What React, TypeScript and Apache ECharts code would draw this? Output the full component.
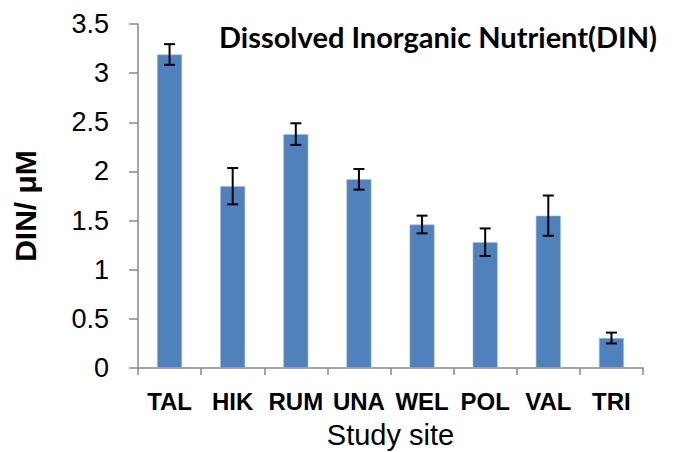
import React, { useEffect, useRef } from "react";
import * as echarts from "echarts";

const categories = ["TAL", "HIK", "RUM", "UNA", "WEL", "POL", "VAL", "TRI"];
const dinValues = [3.19, 1.85, 2.38, 1.92, 1.46, 1.28, 1.55, 0.305];
const dinErrors = [0.105, 0.185, 0.11, 0.105, 0.09, 0.14, 0.205, 0.055];
const yTicks = [0, 0.5, 1, 1.5, 2, 2.5, 3, 3.5];

export default function App() {
  const ref = useRef<HTMLDivElement>(null);
  useEffect(() => {
    document.body.style.margin = "0";
    const chart = echarts.init(ref.current!, null, { renderer: "svg" });
    const errData = categories.map((_, i) => [i, dinValues[i] - dinErrors[i], dinValues[i] + dinErrors[i]]);
    chart.setOption({
      animation: false,
      backgroundColor: "#ffffff",
      title: {
        text: "Dissolved Inorganic Nutrient(DIN)",
        left: 433,
        top: 17,
        textAlign: "center",
        textStyle: { fontFamily: "Lato", fontWeight: "bold", fontSize: 29, color: "#000" },
      },
      grid: { left: 138, right: 49, top: 24, bottom: 84, containLabel: false, outerBoundsMode: "none" },
      xAxis: {
        type: "category",
        data: categories,
        boundaryGap: true,
        name: "Study site",
        nameLocation: "middle",
        nameGap: 52,
        nameTextStyle: { fontFamily: "Liberation Sans", fontSize: 29, color: "#000" },
        axisLine: { lineStyle: { color: "#888888", width: 1.5 } },
        axisTick: { show: true, length: 7, lineStyle: { color: "#888888", width: 1.5 } },
        axisLabel: { interval: 0, hideOverlap: false, fontFamily: "Liberation Sans", fontWeight: "bold", fontSize: 24, color: "#000", margin: 21 },
      },
      yAxis: {
        type: "value",
        min: 0,
        max: 3.5,
        interval: 0.5,
        name: "DIN/ μM",
        nameLocation: "middle",
        nameGap: 98,
        nameRotate: 90,
        nameTextStyle: { fontFamily: "Liberation Sans", fontWeight: "bold", fontSize: 30, color: "#000", padding: [0, 20, 0, 0] },
        splitLine: { show: false },
        axisLine: { show: true, lineStyle: { color: "#888888", width: 1.5 } },
        axisTick: { show: true, length: 9, lineStyle: { color: "#888888", width: 1.5 } },
        axisLabel: {
          fontFamily: "Liberation Sans",
          fontSize: 27,
          color: "#000",
          margin: 29,
          formatter: (v: number) => (yTicks.includes(v) ? String(v) : ""),
        },
      },
      series: [
        {
          type: "bar",
          data: dinValues,
          barWidth: 25,
          itemStyle: { color: "#4F81BD", borderColor: "#A7BFDE", borderWidth: 0.6 },
        },
        {
          type: "custom",
          data: errData,
          encode: { x: 0, y: [1, 2] },
          z: 10,
          renderItem: (params: any, api: any) => {
            const x = api.value(0);
            const lo = api.coord([x, api.value(1)]);
            const hi = api.coord([x, api.value(2)]);
            const hw = 5.5;
            const style = { stroke: "#000", lineWidth: 2 };
            return {
              type: "group",
              children: [
                { type: "line", shape: { x1: lo[0], y1: lo[1], x2: hi[0], y2: hi[1] }, style },
                { type: "line", shape: { x1: hi[0] - hw, y1: hi[1], x2: hi[0] + hw, y2: hi[1] }, style },
                { type: "line", shape: { x1: lo[0] - hw, y1: lo[1], x2: lo[0] + hw, y2: lo[1] }, style },
              ],
            };
          },
        },
      ],
    });
    return () => chart.dispose();
  }, []);
  return <div ref={ref} style={{ width: 692, height: 452 }} />;
}
